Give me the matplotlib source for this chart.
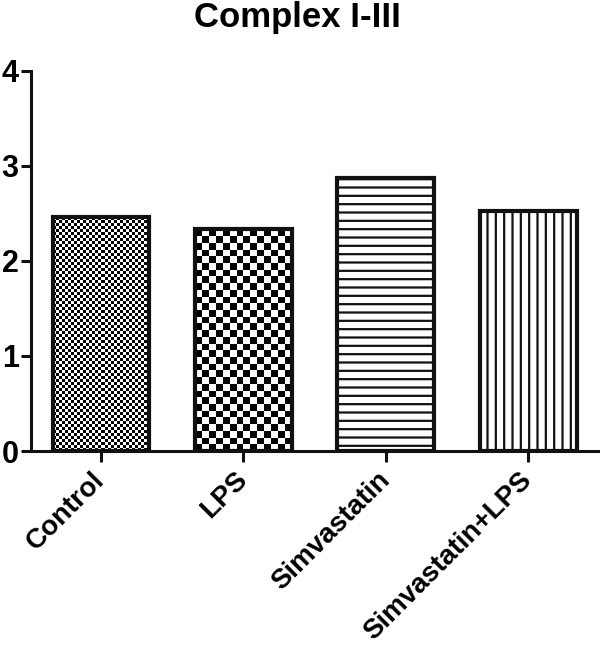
import numpy as np
import matplotlib.pyplot as plt

plt.rcParams['font.family'] = ['Liberation Sans', 'DejaVu Sans']
plt.rcParams['font.weight'] = 'bold'
plt.rcParams['hatch.linewidth'] = 1.6

groups = ['Control', 'LPS', 'Simvastatin', 'Simvastatin+LPS']
values = [2.46, 2.34, 2.87, 2.53]
# fill style per bar: checker cell size (px) or hatch
fills = [('checker', 3.0), ('checker', 6.7), ('hatch', '--'), ('hatch', '||')]

fig = plt.figure(figsize=(6.0, 6.49), dpi=100)
ax = fig.add_axes([0.052, 0.305, 0.947, 0.586])

x = np.arange(len(groups))
width = 0.68
ax.set_xlim(-0.49, 3.5)
ax.set_ylim(0, 4)

bars = ax.bar(x, values, width=width, color='white', edgecolor='#111111',
              linewidth=3.0, zorder=3)

# px per data unit, used to size the checker cells
fig.canvas.draw()
px_per_x = ax.transData.transform((1, 0))[0] - ax.transData.transform((0, 0))[0]
px_per_y = ax.transData.transform((0, 1))[1] - ax.transData.transform((0, 0))[1]

for b, (kind, arg) in zip(bars, fills):
    if kind == 'hatch':
        b.set_hatch(arg)
        continue
    b.set_facecolor('none')
    x0, w = b.get_x(), b.get_width()
    h = b.get_height()
    nx = max(1, int(round(w * px_per_x / arg)))
    ny = max(1, int(round(h * px_per_y / arg)) + 1)
    ii, jj = np.indices((ny, nx))
    img = ((ii + jj) % 2).astype(float)
    im = ax.imshow(img, cmap='gray', vmin=0, vmax=1, interpolation='nearest',
                   extent=[x0, x0 + w, 0, ny * arg / px_per_y], origin='lower',
                   aspect='auto', zorder=2)
    im.set_clip_path(b)
ax.set_xlim(-0.49, 3.5)
ax.set_ylim(0, 4)

ax.spines['top'].set_visible(False)
ax.spines['right'].set_visible(False)
ax.spines['left'].set_linewidth(2.2)
ax.spines['bottom'].set_linewidth(2.2)
ax.spines['left'].set_color('#111111')
ax.spines['bottom'].set_color('#111111')

ax.set_yticks([0, 1, 2, 3, 4])
ax.tick_params(axis='y', length=7, width=2.2, labelsize=22, pad=2, color='#111111')
ax.tick_params(axis='x', length=8, width=2.2, labelsize=20, pad=10, color='#111111')
ax.set_xticks(x)
ax.set_xticklabels(groups, rotation=45, ha='right', va='center',
                   rotation_mode='anchor', fontweight='bold')
for lab in ax.get_yticklabels():
    lab.set_fontweight('bold')

fig.suptitle('Complex I-III', fontsize=25, fontweight='bold', x=0.496, y=0.999)

fig.savefig('out.png', dpi=100)
